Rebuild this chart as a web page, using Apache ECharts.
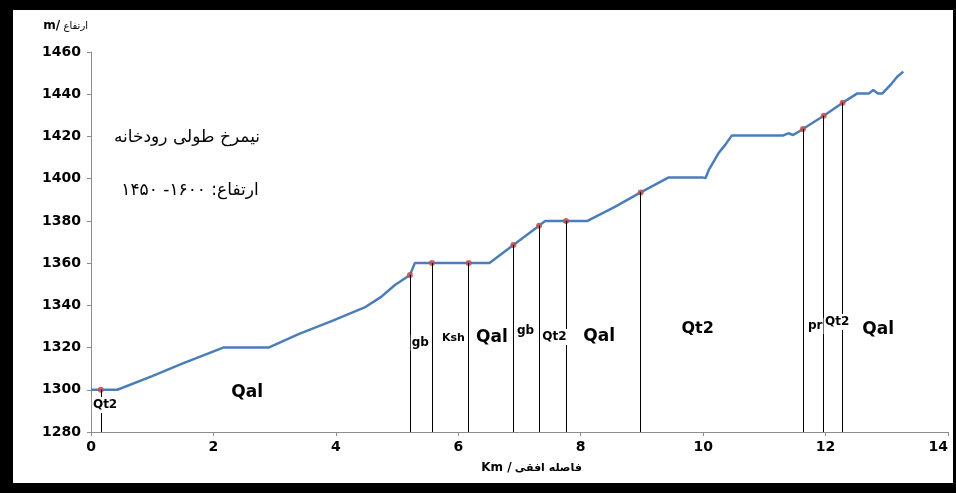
<!DOCTYPE html>
<html>
<head>
<meta charset="utf-8">
<script src="https://cdn.jsdelivr.net/npm/echarts@6/dist/echarts.min.js"></script>
<style>
  html, body { margin: 0; padding: 0; background: #000; }
  #frame { position: relative; width: 956px; height: 493px; background: #000; overflow: hidden; }
  #chart { position: absolute; left: 13px; top: 10px; width: 940px; height: 473px; background: #fff; }
</style>
</head>
<body>
<div id="frame"><div id="chart"></div></div>
<script>
// Longitudinal river profile: horizontal distance (km) vs elevation (m)
const profileKm = [0, 0.43, 1.0, 1.5, 2.16, 2.9, 3.4, 3.93, 4.47, 4.74, 4.96, 5.21, 5.29,
  5.57, 6.17, 6.51, 6.90, 7.32, 7.42, 7.76, 8.11, 8.55, 8.98, 9.43, 10.0, 10.04, 10.09,
  10.25, 10.36, 10.47, 11.31, 11.39, 11.47, 11.63, 11.97, 12.28, 12.52, 12.71, 12.78,
  12.85, 12.93, 13.06, 13.17, 13.27];
const profileElev = [1300, 1300, 1306.5, 1312.5, 1320, 1320, 1326.5, 1332.5, 1339, 1344, 1349.5, 1354.4, 1360,
  1360, 1360, 1360, 1368.6, 1377.7, 1380, 1380, 1380, 1386.5, 1393.5, 1400.5, 1400.5, 1400.3, 1404,
  1412, 1416, 1420.5, 1420.5, 1421.5, 1420.7, 1423.5, 1429.8, 1436, 1440.4, 1440.4, 1442,
  1440.4, 1440.4, 1444.4, 1448.3, 1450.7];

// Geological contacts along the profile
const contactKm = [0.16, 5.21, 5.57, 6.17, 6.90, 7.32, 7.76, 8.98, 11.63, 11.97, 12.28];
const contactElev = [1300, 1354.4, 1360, 1360, 1368.6, 1377.7, 1380, 1393.5, 1423.5, 1429.8, 1436];

// Rock-unit names and where they are written (km, m)
const unitNames = ['Qt2', 'Qal', 'gb', 'Ksh', 'Qal', 'gb', 'Qt2', 'Qal', 'Qt2', 'pr', 'Qt2', 'Qal'];
const unitKm = [0.23, 2.55, 5.38, 5.92, 6.55, 7.10, 7.57, 8.30, 9.91, 11.83, 12.19, 12.86];
const unitElev = [1292.8, 1298.9, 1322.2, 1324.5, 1324.5, 1327.8, 1325, 1325, 1328.8, 1330.2, 1332.1, 1328.3];

// Axis ranges and ticks
const xTicks = [0, 2, 4, 6, 8, 10, 12, 14];
const yTicks = [1280, 1300, 1320, 1340, 1360, 1380, 1400, 1420, 1440, 1460];

const titleLine1 = 'نیمرخ طولی رودخانه';
const titleLine2 = 'ارتفاع: ۱۶۰۰- ۱۴۵۰';

// ---- styling ----
const unitFontSize = [12, 17, 12, 11, 17, 12, 12, 17, 16, 12, 12, 17];
const FONT = 'DejaVu Sans';
const AXIS_GREY = '#8c8c8c';

const chart = echarts.init(document.getElementById('chart'), null, { renderer: 'canvas' });
const yMin = yTicks[0], yMax = yTicks[yTicks.length - 1];
const xMin = xTicks[0], xMax = xTicks[xTicks.length - 1];

chart.setOption({
  animation: false,
  backgroundColor: '#fff',
  grid: { left: 78, right: 5, top: 42, bottom: 51, containLabel: false },
  xAxis: {
    type: 'value', min: xMin, max: xMax, interval: xTicks[1] - xTicks[0],
    splitLine: { show: false },
    axisLine: { lineStyle: { color: AXIS_GREY, width: 1 } },
    axisTick: { show: true, length: 4, lineStyle: { color: AXIS_GREY } },
    axisLabel: { color: '#000', fontFamily: FONT, fontWeight: 'bold', fontSize: 14, margin: 8,
      alignMaxLabel: 'right', formatter: v => String(v) },
    name: '{a|Km /} {b|فاصله افقی}',
    nameLocation: 'middle', nameGap: 30,
    nameTextStyle: {
      padding: [0, 0, 0, 24],
      rich: {
        a: { fontFamily: FONT, fontWeight: 'bold', fontSize: 12, color: '#000' },
        b: { fontFamily: FONT, fontWeight: 'bold', fontSize: 11, color: '#000' }
      }
    }
  },
  yAxis: {
    type: 'value', min: yMin, max: yMax, interval: yTicks[1] - yTicks[0],
    splitLine: { show: false },
    axisLine: { show: true, lineStyle: { color: AXIS_GREY, width: 1 } },
    axisTick: { show: true, length: 4, lineStyle: { color: AXIS_GREY } },
    axisLabel: { color: '#000', fontFamily: FONT, fontWeight: 'bold', fontSize: 14, margin: 10,
      formatter: v => String(v) },
    name: '{a|m/} {b|ارتفاع}',
    nameLocation: 'end', nameGap: 20,
    nameTextStyle: {
      align: 'right', padding: [0, 3, 0, 0],
      rich: {
        a: { fontFamily: FONT, fontWeight: 'bold', fontSize: 12, color: '#000' },
        b: { fontFamily: FONT, fontSize: 10, color: '#000' }
      }
    }
  },
  graphic: [
    { type: 'text', x: 174, y: 128, silent: true,
      style: { text: titleLine1, font: '17px "DejaVu Sans"', fill: '#000', align: 'center', verticalAlign: 'middle' } },
    { type: 'text', x: 177, y: 181, silent: true,
      style: { text: titleLine2, font: '17px "DejaVu Sans"', fill: '#000', align: 'center', verticalAlign: 'middle' } }
  ],
  series: [
    {
      // vertical contact lines dropped to the base of the chart
      type: 'line', data: [], z: 2, silent: true,
      markLine: {
        silent: true, animation: false, symbol: ['none', 'none'],
        label: { show: false },
        lineStyle: { color: '#000', width: 1, type: 'solid' },
        data: contactKm.map((x, i) => [{ coord: [x, contactElev[i]] }, { coord: [x, yMin] }])
      }
    },
    {
      name: 'profile', type: 'line', z: 3, silent: true,
      showSymbol: false, smooth: false,
      lineStyle: { color: '#4a7ebb', width: 2.5 },
      data: profileKm.map((x, i) => [x, profileElev[i]])
    },
    {
      name: 'contacts', type: 'scatter', z: 4, silent: true,
      symbolSize: 6, itemStyle: { color: '#c0504d', opacity: 0.85 },
      data: contactKm.map((x, i) => [x, contactElev[i]])
    },
    {
      name: 'units', type: 'scatter', z: 5, silent: true,
      symbolSize: 0, itemStyle: { opacity: 1 },
      label: {
        show: true, position: 'inside', formatter: '{b}',
        color: '#000', fontFamily: FONT, fontWeight: 'bold', opacity: 1,
        backgroundColor: '#fff', padding: [2, 1]
      },
      data: unitNames.map((n, i) => ({
        name: n, value: [unitKm[i], unitElev[i]],
        label: { fontSize: unitFontSize[i], color: '#000' }
      }))
    }
  ]
});
</script>
</body>
</html>
